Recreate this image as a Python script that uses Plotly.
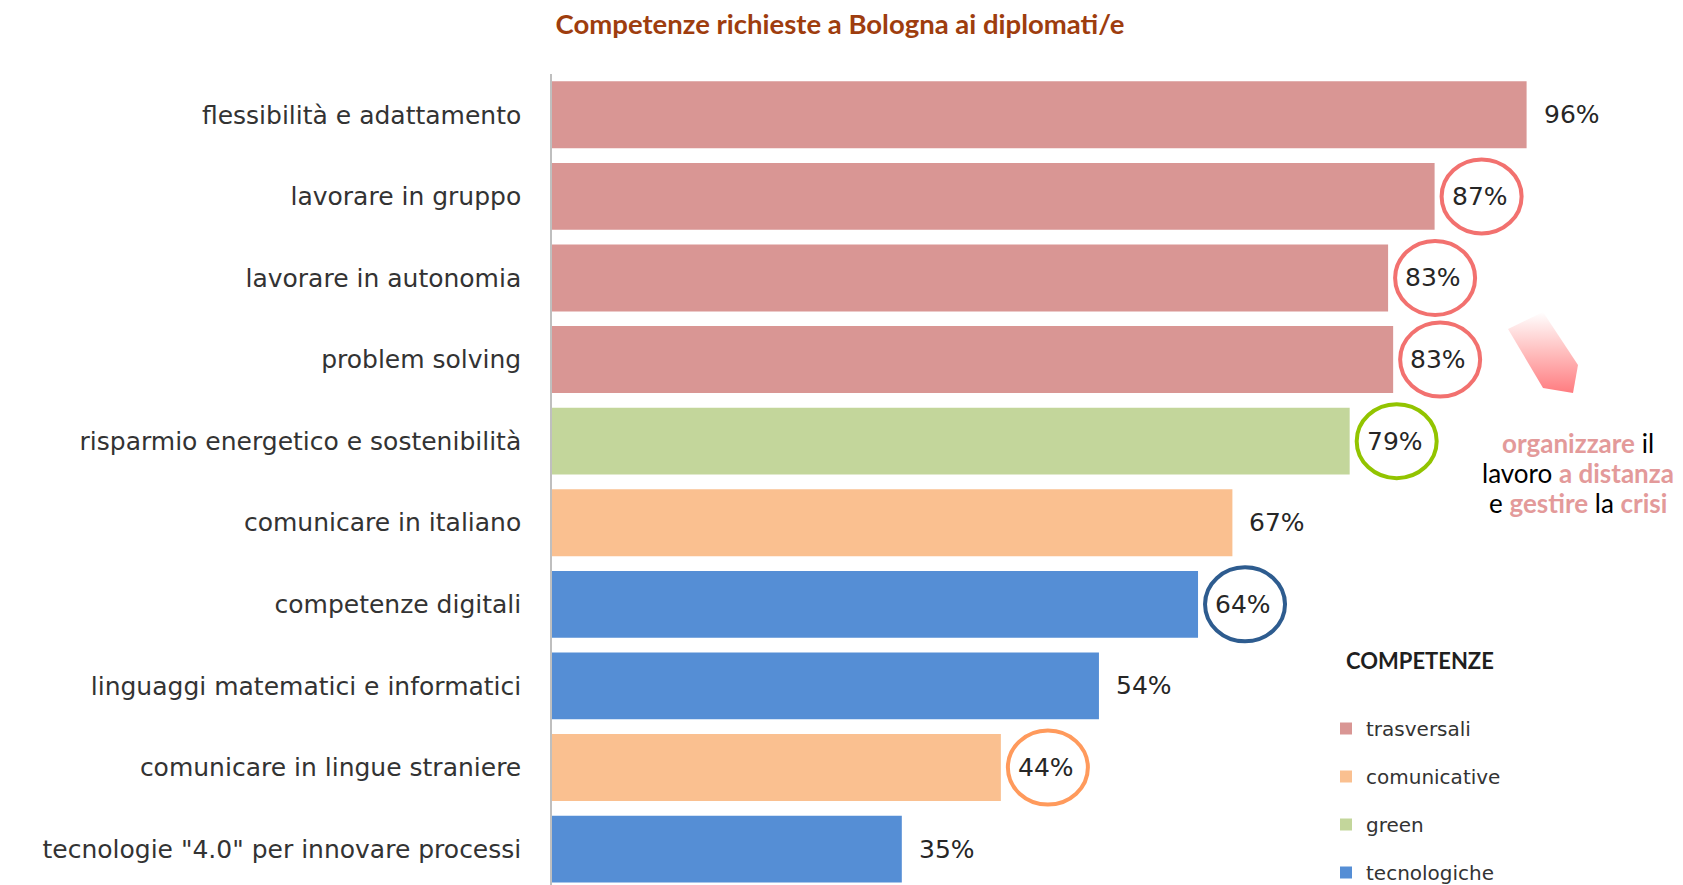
import plotly.graph_objects as go

# ---------------- data ----------------
categories = [
    "flessibilità e adattamento",
    "lavorare in gruppo",
    "lavorare in autonomia",
    "problem solving",
    "risparmio energetico e sostenibilità",
    "comunicare in italiano",
    "competenze digitali",
    "linguaggi matematici e informatici",
    "comunicare in lingue straniere",
    "tecnologie \"4.0\" per innovare processi",
]
values = [96.4, 87.3, 82.7, 83.2, 78.9, 67.3, 63.9, 54.1, 44.4, 34.6]
groups = ["trasversali", "trasversali", "trasversali", "trasversali", "green",
          "comunicative", "tecnologiche", "tecnologiche", "comunicative", "tecnologiche"]
highlight = ["", "red", "red", "red", "green", "", "blue", "", "orange", ""]

group_order = ["trasversali", "comunicative", "green", "tecnologiche"]
group_colors = {"trasversali": "#D99694", "comunicative": "#FAC090",
                "green": "#C3D69B", "tecnologiche": "#558ED5"}
circle_colors = {"red": "#F2716F", "green": "#92C400", "blue": "#2E5C8F", "orange": "#FF9A5C"}

title_text = "Competenze richieste a Bologna ai diplomati/e"
legend_title = "COMPETENZE"
note_lines = [
    [("organizzare", True), (" il", False)],
    [("lavoro ", False), ("a distanza", True)],
    [("e ", False), ("gestire", True), (" la ", False), ("crisi", True)],
]
note_line_y = [443, 473, 503]

# arrow decoration (pixel coordinates of the page)
arrow_x = [1508, 1543, 1578, 1573, 1543, 1508]
arrow_y = [329, 312, 365, 393, 388, 329]

W, H = 1683, 885
ML, MT = 552, 74
PW, PH = W - ML, H - MT


def px_x(x):
    return (x - ML) / PW


def px_y(y):
    return 1 - (y - MT) / PH


fig = go.Figure()

for g in group_order:
    ys = [c for c, gg in zip(categories, groups) if gg == g]
    xs = [v for v, gg in zip(values, groups) if gg == g]
    fig.add_trace(go.Bar(
        x=xs, y=ys, orientation="h", name=g, legendgroup=g,
        marker=dict(color=group_colors[g], line=dict(width=0)),
        width=0.82, hoverinfo="x+y",
    ))

# arrow with gradient, on an overlay axis in page pixels
fig.add_trace(go.Scatter(
    x=arrow_x, y=arrow_y, xaxis="x2", yaxis="y2", mode="lines",
    line=dict(width=0), fill="toself", showlegend=False, hoverinfo="skip",
    fillgradient=dict(type="vertical", start=312, stop=393,
                      colorscale=[[0, "rgba(255,255,255,1)"], [0.45, "#FFC4C4"], [1, "#FF7C80"]]),
))

annotations = []
shapes = []
lab_font = dict(family="DejaVu Sans", size=25, color="#262626")
for i, (c, v, h) in enumerate(zip(categories, values, highlight)):
    annotations.append(dict(
        x=v, y=c, xref="x", yref="y", text=f"{v:.0f}%", showarrow=False,
        xanchor="left", yanchor="middle", xshift=15, font=lab_font,
    ))
    if h:
        shapes.append(dict(
            type="circle", xref="x", yref="y",
            xsizemode="pixel", ysizemode="pixel",
            xanchor=v, yanchor=i,
            x0=7, x1=87, y0=-37, y1=37,
            line=dict(color=circle_colors[h], width=4),
            fillcolor="rgba(0,0,0,0)",
        ))

# legend title
annotations.append(dict(
    x=px_x(1344), y=px_y(660), xref="paper", yref="paper",
    text=f"<b>{legend_title}</b>", showarrow=False, xanchor="left", yanchor="middle",
    font=dict(family="Lato", size=22, color="#1F1F1F"),
))

# side note, one annotation per line
pink = "#E39A9A"
for line, ly in zip(note_lines, note_line_y):
    parts = []
    for txt, hl in line:
        if hl:
            parts.append(f"<b><span style='color:{pink}'>{txt}</span></b>")
        else:
            parts.append(f"<span style='color:#000000'>{txt}</span>")
    annotations.append(dict(
        x=px_x(1578), y=px_y(ly), xref="paper", yref="paper",
        text="".join(parts), showarrow=False, xanchor="center", yanchor="middle",
        font=dict(family="Lato", size=26, color="#000000"),
    ))

fig.update_layout(
    width=W, height=H,
    margin=dict(l=ML, r=0, t=MT, b=0, pad=0, autoexpand=False),
    paper_bgcolor="white", plot_bgcolor="white",
    barmode="overlay",
    title=dict(text=f"<b>{title_text}</b>", xref="container", yref="container",
               x=840 / W, y=1 - 24 / H, xanchor="center", yanchor="middle",
               font=dict(family="Lato", size=27.5, color="#9E3D0E")),
    xaxis=dict(range=[0, PW / 10.11], showgrid=False, zeroline=False,
               showticklabels=False, showline=False, fixedrange=True),
    yaxis=dict(type="category", categoryorder="array", categoryarray=categories,
               range=[9.44, -0.5], showgrid=False, zeroline=False,
               showline=True, linecolor="#BFBFBF", linewidth=1.5,
               ticks="", ticklabelstandoff=24, automargin=False,
               tickfont=dict(family="DejaVu Sans", size=25, color="#333333")),
    xaxis2=dict(overlaying="x", range=[ML, W], visible=False, fixedrange=True),
    yaxis2=dict(overlaying="y", range=[H, MT], visible=False, fixedrange=True),
    showlegend=True,
    legend=dict(x=px_x(1326), y=px_y(709),
                xanchor="left", yanchor="top", tracegroupgap=19,
                bgcolor="rgba(0,0,0,0)",
                font=dict(family="DejaVu Sans", size=20, color="#333333")),
    annotations=annotations,
    shapes=shapes,
)

fig.write_html(
    "out.html",
    config={"displayModeBar": False},
    post_script="document.body.style.margin='0px';document.body.style.overflow='hidden';",
)
